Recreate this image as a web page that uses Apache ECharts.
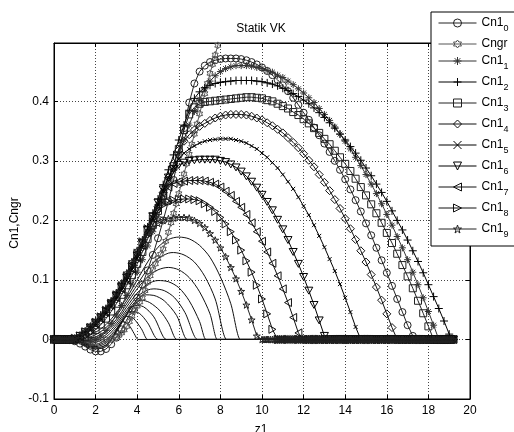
<!DOCTYPE html>
<html><head><meta charset="utf-8">
<script src="https://cdn.jsdelivr.net/npm/echarts/dist/echarts.min.js"></script>
<style>html,body{margin:0;padding:0;background:#fff}#c{width:514px;height:432px}</style>
</head><body><div id="c"></div>
<script>
// common z1 grid for the marker series
const z1 = [0,.25,.5,.75,1,1.25,1.5,1.75,2,2.25,2.5,2.75,3,3.25,3.5,3.75,4,4.25,4.5,4.75,5,5.25,5.5,5.75,6,6.25,6.5,6.75,7,7.25,7.5,7.75,8,8.25,8.5,8.75,9,9.25,9.5,9.75,10,10.25,10.5,10.75,11,11.25,11.5,11.75,12,12.25,12.5,12.75,13,13.25,13.5,13.75,14,14.25,14.5,14.75,15,15.25,15.5,15.75,16,16.25,16.5,16.75,17,17.25,17.5,17.75,18,18.25,18.5,18.75,19,19.2];
// denser z1 samples where all curves sit on zero (start and tail)
const zHead = [.1,.2,.3,.4,.6,.7,.8,.9];
const zTail = [9.8,9.9,10,10.1,10.2,10.3,10.4,10.5,10.6,10.7,10.8,10.9,11,11.1,11.2,11.3,11.4,11.5,11.6,11.7,11.8,11.9,12,12.1,12.2,12.3,12.4,12.5,12.6,12.7,12.8,12.9,13,13.1,13.2,13.3,13.4,13.5,13.6,13.7,13.8,13.9,14,14.1,14.2,14.3,14.4,14.5,14.6,14.7,14.8,14.9,15,15.1,15.2,15.3,15.4,15.5,15.6,15.7,15.8,15.9,16,16.1,16.2,16.3,16.4,16.5,16.6,16.7,16.8,16.9,17,17.1,17.2,17.3,17.4,17.5,17.6,17.7,17.8,17.9,18,18.1,18.2,18.3,18.4,18.5,18.6,18.7,18.8,18.9,19,19.1,19.2];
// z1 from which each marked curve stays at zero
const zeroFrom = { Cn1_0: 17.5, Cngr: 99, Cn1_1: 18.5, Cn1_2: 19.2, Cn1_3: 18.25, Cn1_4: 16.5, Cn1_5: 14.75, Cn1_6: 13.25, Cn1_7: 12, Cn1_8: 10.75, Cn1_9: 10 };

const cn1_0 = [0,0,0,-.001, -.003,-.007,-.012,-.017, -.02,-.02,-.016,-.008, .003,.017,.033,.05, .07,.092,.116,.142, .17,.2,.232,.268, .31,.355,.398,.43, .45,.46,.466,.469, .471,.472,.472,.472, .471,.469,.466,.462, .457,.451,.444,.436, .427,.417,.406,.394, .381,.369,.356,.343, .329,.315,.3,.285, .269,.252,.234,.215, .195,.175,.154,.133, .112,.09,.068,.046, .024,.006,0,0, 0,0,0,0, 0,0];
const cn1_1 = [0,0,0,0, -.001,-.003,-.004,-.003, 0,.006,.015,.027, .041,.057,.074,.093, .113,.134,.157,.181, .206,.232,.258,.284, .31,.335,.36,.383, .404,.421,.434,.443, .45,.455,.458,.46, .46,.46,.459,.457, .455,.452,.449,.444, .44,.434,.428,.421, .414,.406,.398,.388, .378,.368,.357,.345, .333,.32,.306,.292, .277,.261,.245,.228, .21,.192,.173,.154, .134,.113,.092,.07, .047,.024,0,0, 0,0];
const cn1_2 = [0,0,0,0, .002,.007,.014,.022, .031,.041,.052,.064, .078,.093,.109,.127, .146,.167,.189,.212, .236,.26,.285,.31, .335,.36,.385,.405, .416,.423,.427,.43, .432,.433,.434,.435, .435,.435,.435,.434, .433,.431,.429,.426, .422,.418,.413,.408, .402,.396,.389,.381, .373,.364,.355,.345, .335,.324,.313,.301, .288,.275,.261,.247, .232,.216,.2,.184, .167,.149,.131,.112, .092,.072,.052,.031, .009,0];
const cn1_3 = [0,0,0,0, 0,.001,.004,.009, .016,.025,.035,.047, .06,.075,.091,.108, .127,.147,.169,.192, .216,.241,.266,.291, .32,.352,.378,.39, .396,.399,.4,.401, .402,.403,.404,.405, .406,.407,.407,.406, .405,.402,.4,.396, .392,.388,.382,.377, .37,.363,.355,.347, .337,.328,.317,.306, .295,.283,.27,.256, .242,.227,.212,.196, .179,.162,.144,.125, .106,.086,.065,.044, .022,0,0,0, 0,0];
const cn1_4 = [0,0,0,0, 0,.003,.008,.015, .023,.032,.043,.055, .068,.083,.099,.116, .135,.155,.177,.2, .223,.247,.272,.296, .318,.333,.344,.352, .358,.363,.368,.372, .375,.377,.378,.378, .378,.377,.375,.372, .369,.364,.359,.353, .347,.339,.331,.322, .312,.301,.29,.277, .264,.25,.235,.22, .203,.186,.168,.149, .13,.109,.088,.066, .043,.02,0,0, 0,0,0,0, 0,0,0,0, 0,0];
const cn1_5 = [0,0,0,0, .001,.005,.011,.018, .026,.035,.045,.057, .07,.085,.1,.118, .137,.158,.18,.203, .227,.251,.272,.289, .303,.313,.32,.325, .33,.333,.335,.336, .337,.337,.337,.335, .333,.33,.325,.32, .313,.306,.297,.288, .277,.265,.253,.239, .224,.209,.192,.174, .155,.135,.115,.093, .07,.046,.021,0, 0,0,0,0, 0,0,0,0, 0,0,0,0, 0,0,0,0, 0,0];
const cn1_6 = [0,0,0,0, .001,.006,.012,.02, .028,.037,.048,.06, .073,.088,.104,.122, .141,.162,.184,.207, .23,.252,.272,.286, .293,.297,.3,.301, .302,.302,.302,.302, .3,.298,.294,.289, .282,.274,.265,.255, .243,.231,.217,.201, .185,.167,.147,.127, .105,.082,.058,.032, .006,0,0,0, 0,0,0,0, 0,0,0,0, 0,0,0,0, 0,0,0,0, 0,0,0,0, 0,0];
const cn1_7 = [0,0,0,0, .001,.005,.011,.018, .026,.035,.045,.057, .07,.085,.1,.118, .137,.158,.18,.203, .226,.245,.256,.262, .265,.266,.267,.267, .267,.266,.264,.261, .256,.249,.242,.232, .222,.21,.196,.181, .165,.147,.128,.107, .085,.062,.037,.011, 0,0,0,0, 0,0,0,0, 0,0,0,0, 0,0,0,0, 0,0,0,0, 0,0,0,0, 0,0,0,0, 0,0];
const cn1_8 = [0,0,0,0, .002,.006,.013,.02, .029,.038,.049,.061, .075,.09,.106,.124, .143,.164,.186,.203, .216,.226,.231,.234, .235,.236,.236,.235, .233,.228,.222,.215, .205,.194,.181,.167, .15,.132,.113,.091, .068,.043,.017,0, 0,0,0,0, 0,0,0,0, 0,0,0,0, 0,0,0,0, 0,0,0,0, 0,0,0,0, 0,0,0,0, 0,0,0,0, 0,0];
const cn1_9 = [0,0,0,0, .002,.007,.014,.022, .031,.041,.052,.065, .079,.095,.112,.131, .15,.166,.178,.188, .195,.2,.203,.204, .205,.205,.204,.2, .195,.188,.178,.167, .154,.139,.121,.102, .081,.058,.033,.006, 0,0,0,0, 0,0,0,0, 0,0,0,0, 0,0,0,0, 0,0,0,0, 0,0,0,0, 0,0,0,0, 0,0,0,0, 0,0,0,0, 0,0];

// Cngr (own z1 samples)
const cngrX = [0,.25,.5,.75,1,1.25,1.5,1.75,2,2.25,2.5,2.75,3,3.125,3.25,3.375,3.5,3.625,3.75,3.875,4,4.125,4.25,4.375,4.5,4.625,4.75,4.875,5,5.125,5.25,5.375,5.5,5.625,5.75,5.875,6,6.125,6.25,6.375,6.5,6.625,6.75,6.875,7,7.125,7.25,7.375,7.5,7.625,7.75,7.875,8];
const cngrY = [0,0,0,0,0,0,0,0,0,0,0,0,.004,.007,.011,.016,.022,.03,.039,.048,.056,.063,.07,.082,.096,.107,.117,.127,.136,.143,.152,.165,.18,.196,.212,.228,.245,.262,.278,.295,.311,.328,.345,.362,.379,.396,.413,.43,.447,.462,.478,.494,.51];

// thin unlabeled curves [z1, value]
const t1 = [[0,0],[1,0],[1.5,.004],[2,.012],[2.5,.025],[3,.045],[3.5,.07],[4,.1],[4.5,.13],[5,.155],[5.5,.168],[6,.172],[6.5,.169],[7,.158],[7.5,.138],[8,.105],[8.5,.06],[8.96,0],[9.01,0],[19.2,0]];
const t2 = [[0,0],[1,0],[1.5,.002],[2,.008],[2.5,.02],[3,.04],[3.5,.065],[4,.092],[4.5,.118],[5,.136],[5.5,.145],[5.75,.146],[6.25,.142],[6.75,.13],[7.25,.106],[7.75,.068],[8.3,0],[8.35,0],[19.2,0]];
const t3 = [[0,0],[1,0],[1.5,0],[2,.004],[2.5,.015],[3,.034],[3.5,.06],[4,.085],[4.5,.105],[5,.117],[5.5,.121],[6,.117],[6.5,.104],[7,.08],[7.5,.043],[7.85,0],[7.9,0],[19.2,0]];
const t4 = [[0,0],[1,0],[1.5,-.002],[2,.001],[2.5,.012],[3,.03],[3.5,.055],[4,.078],[4.5,.093],[5,.099],[5.5,.097],[6,.087],[6.5,.065],[7,.03],[7.3,0],[7.35,0],[19.2,0]];
const t5 = [[0,0],[1,0],[1.5,-.004],[2,-.002],[2.5,.008],[3,.026],[3.5,.05],[4,.072],[4.5,.083],[4.8,.085],[5.3,.082],[5.8,.07],[6.3,.045],[6.9,0],[6.95,0],[19.2,0]];
const t6 = [[0,0],[1,0],[1.5,-.006],[2,-.005],[2.5,.004],[3,.022],[3.5,.046],[4,.067],[4.4,.075],[4.8,.074],[5.3,.065],[5.9,.04],[6.4,0],[6.45,0],[19.2,0]];
const t7 = [[0,0],[1,0],[1.5,-.007],[2,-.008],[2.5,0],[3,.018],[3.5,.042],[3.8,.057],[4.2,.066],[4.6,.062],[5.1,.048],[5.5,.028],[5.9,0],[5.95,0],[19.2,0]];
const t8 = [[0,0],[1,0],[1.5,-.008],[2,-.01],[2.5,-.003],[3,.015],[3.4,.038],[3.9,.057],[4.3,.055],[4.8,.038],[5.4,0],[5.45,0],[19.2,0]];
const t9 = [[0,0],[1,0],[1.5,-.009],[2,-.012],[2.5,-.006],[3,.012],[3.3,.03],[3.7,.047],[4.1,.044],[4.5,.028],[5,0],[5.05,0],[19.2,0]];
const t10 = [[0,0],[1,0],[1.5,-.01],[2,-.014],[2.5,-.009],[2.9,.008],[3.2,.027],[3.5,.039],[3.8,.036],[4.2,.018],[4.5,0],[4.55,0],[19.2,0]];
const t11 = [[0,0],[1,0],[1.5,-.011],[2,-.016],[2.5,-.012],[2.8,.002],[3.05,.02],[3.3,.03],[3.6,.024],[3.85,.01],[4.04,0],[4.09,0],[19.2,0]];

const legendNames = ['Cn1_0','Cngr','Cn1_1','Cn1_2','Cn1_3','Cn1_4','Cn1_5','Cn1_6','Cn1_7','Cn1_8','Cn1_9'];
const xTicks = [0,2,4,6,8,10,12,14,16,18,20];
const yTicks = [-0.1,0,0.1,0.2,0.3,0.4];

const SYM = {
  circle: 'circle',
  hexagram: 'path://M0,-5L1.443,-2.5L4.33,-2.5L2.887,0L4.33,2.5L1.443,2.5L0,5L-1.443,2.5L-4.33,2.5L-2.887,0L-4.33,-2.5L-1.443,-2.5Z',
  asterisk: 'path://M0,-5L0,5M-5,0L5,0M-3.5,-3.5L3.5,3.5M-3.5,3.5L3.5,-3.5',
  plus: 'path://M0,-5L0,5M-5,0L5,0',
  square: 'rect',
  diamond: 'diamond',
  cross: 'path://M-5,-5L5,5M-5,5L5,-5',
  down: 'path://M-5.77,0L5.77,0L0,10Z',
  left: 'path://M0,5L8.66,0L8.66,10Z',
  right: 'path://M8.66,5L0,0L0,10Z',
  penta: 'path://M0,-5L1.123,-1.545L4.755,-1.545L1.817,0.59L2.939,4.045L0,1.91L-2.939,4.045L-1.817,0.59L-4.755,-1.545L-1.123,-1.545Z'
};
const FONT = '"Liberation Sans", Arial, sans-serif';

function buildPoints(name, xs, ys) {
  const pts = xs.map((x, i) => [x, ys[i]]);
  zHead.forEach(x => { if (xs.indexOf(x) < 0) pts.push([x, 0]); });
  zTail.forEach(x => { if (x >= zeroFrom[name] && xs.indexOf(x) < 0) pts.push([x, 0]); });
  return pts.sort((a, b) => a[0] - b[0]);
}
function markerSeries(name, xs, ys, symbol, size, color) {
  return {
    name, type: 'line', data: buildPoints(name, xs, ys),
    symbol, symbolSize: size, symbolKeepAspect: true, showSymbol: true,
    lineStyle: { color, width: 1 },
    itemStyle: { color: 'rgba(0,0,0,0)', borderColor: color, borderWidth: 1 },
    emphasis: { disabled: true }, silent: true, z: 3
  };
}
function thinSeries(d) {
  return {
    name: '', type: 'line', data: d, symbol: 'none', smooth: 0.3,
    lineStyle: { color: '#111', width: 1 }, itemStyle: { color: '#111' },
    emphasis: { disabled: true }, silent: true, z: 2
  };
}

const series = [t1,t2,t3,t4,t5,t6,t7,t8,t9,t10,t11].map(thinSeries).concat([
  markerSeries('Cn1_0', z1, cn1_0, SYM.circle, 7, '#222'),
  markerSeries('Cngr', cngrX, cngrY, SYM.hexagram, 7, '#555'),
  markerSeries('Cn1_1', z1, cn1_1, SYM.asterisk, 7, '#333'),
  markerSeries('Cn1_2', z1, cn1_2, SYM.plus, 8, '#000'),
  markerSeries('Cn1_3', z1, cn1_3, SYM.square, 7, '#222'),
  markerSeries('Cn1_4', z1, cn1_4, SYM.diamond, 8, '#111'),
  markerSeries('Cn1_5', z1, cn1_5, SYM.cross, 4, '#000'),
  markerSeries('Cn1_6', z1, cn1_6, SYM.down, 8, '#000'),
  markerSeries('Cn1_7', z1, cn1_7, SYM.left, 8, '#111'),
  markerSeries('Cn1_8', z1, cn1_8, SYM.right, 8, '#111'),
  markerSeries('Cn1_9', z1, cn1_9, SYM.penta, 7, '#222')
]);

const tickStyle = { show: true, inside: true, length: 4, lineStyle: { color: '#000', width: 1 } };
const gridLine = { show: true, lineStyle: { color: '#444', width: 1, type: [1, 2] } };

const option = {
  animation: false,
  backgroundColor: '#fff',
  grid: { left: 54, right: 44, top: 43, bottom: 33, show: true, borderColor: '#000', borderWidth: 1, backgroundColor: '#fff' },
  xAxis: [
    { type: 'value', min: xTicks[0], max: xTicks[xTicks.length-1], interval: 2, position: 'bottom',
      axisLine: { show: true, onZero: false, lineStyle: { color: '#000', width: 1 } },
      axisTick: tickStyle,
      axisLabel: { color: '#000', fontSize: 12, fontFamily: FONT, margin: 6 },
      splitLine: gridLine },
    { type: 'value', min: 0, max: 20, interval: 2, position: 'top',
      axisLine: { show: true, onZero: false, lineStyle: { color: '#000', width: 1 } },
      axisTick: tickStyle, axisLabel: { show: false }, splitLine: { show: false } }
  ],
  yAxis: [
    { type: 'value', min: yTicks[0], max: 0.498, interval: 0.1, position: 'left',
      axisLine: { show: true, onZero: false, lineStyle: { color: '#000', width: 1 } },
      axisTick: tickStyle,
      axisLabel: { color: '#000', fontSize: 12, fontFamily: FONT, margin: 5, showMaxLabel: false,
        formatter: v => { const r = Math.round(v * 10) / 10; return yTicks.indexOf(r) >= 0 ? String(r) : ''; } },
      splitLine: gridLine },
    { type: 'value', min: -0.1, max: 0.498, interval: 0.1, position: 'right',
      axisLine: { show: true, onZero: false, lineStyle: { color: '#000', width: 1 } },
      axisTick: tickStyle, axisLabel: { show: false }, splitLine: { show: false } }
  ],
  legend: {
    data: legendNames, orient: 'vertical', left: 431, top: 12,
    padding: [5, 60, 7, 7], itemWidth: 38, itemHeight: 10, itemGap: 5,
    backgroundColor: '#fff', borderColor: '#000', borderWidth: 1, borderRadius: 0,
    selectedMode: false, z: 10,
    itemStyle: { borderWidth: 1 },
    lineStyle: { width: 1 },
    formatter: n => n === 'Cngr' ? '{a|Cngr}' : '{a|Cn1}{s|' + n.slice(4) + '}',
    textStyle: { color: '#000', fontFamily: FONT, fontSize: 12,
      rich: { a: { fontSize: 12, lineHeight: 20, fontFamily: FONT, color: '#000' },
              s: { fontSize: 9, lineHeight: 10, verticalAlign: 'bottom', fontFamily: FONT, color: '#000' } } }
  },
  graphic: [
    { type: 'text', x: 261, y: 28.5, silent: true,
      style: { text: 'Statik VK', font: '12px ' + FONT, fill: '#000', align: 'center', verticalAlign: 'middle' } },
    { type: 'text', x: 15, y: 223, rotation: Math.PI / 2, silent: true,
      style: { text: 'Cn1,Cngr', font: '12px ' + FONT, fill: '#000', align: 'center', verticalAlign: 'middle' } },
    { type: 'text', x: 261, y: 424, silent: true,
      style: { text: 'z1', font: '12px ' + FONT, fill: '#000', align: 'center', verticalAlign: 'top' } }
  ],
  series
};

const chart = echarts.init(document.getElementById('c'), null, { renderer: 'canvas' });
chart.setOption(option);
</script>
</body></html>
